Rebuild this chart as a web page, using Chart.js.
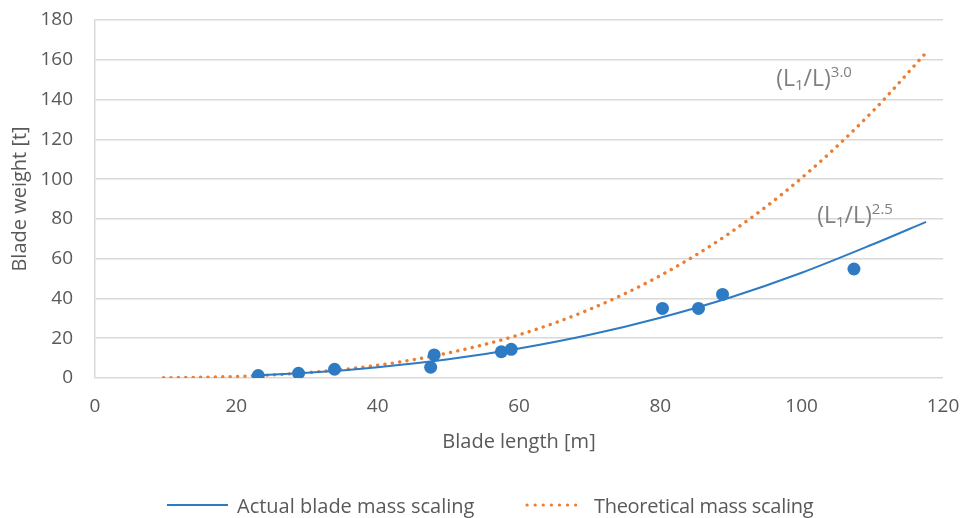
<!DOCTYPE html>
<html>
<head>
<meta charset="utf-8">
<script src="https://cdn.jsdelivr.net/npm/chart.js@4/dist/chart.umd.min.js"></script>
<style>
  html, body { margin: 0; padding: 0; background: #fff; }
  #wrap { position: relative; width: 962px; height: 518px; }
  #legend { position: absolute; left: 0; top: 492px; width: 962px; height: 26px;
            font-family: 'Open Sans', sans-serif; font-size: 20px; color: #595959; }
  .item { position: absolute; top: 0; height: 26px; display: flex; align-items: center; white-space: nowrap; }
  .item svg { margin-right: 9px; }
</style>
</head>
<body>
<div id="wrap">
  <canvas id="bladeChart" width="962" height="518"></canvas>
  <div id="legend">
    <div class="item" style="left:167px">
      <svg width="61" height="6"><line x1="0" y1="3" x2="61" y2="3" stroke="#2e7bc4" stroke-width="2.2"/></svg>
      <span>Actual blade mass scaling</span>
    </div>
    <div class="item" style="left:525px">
      <svg width="60" height="6"><line x1="2" y1="3" x2="58" y2="3" stroke="#ed7d31" stroke-width="3.2" stroke-linecap="round" stroke-dasharray="0.1 8"/></svg>
      <span style="letter-spacing:-0.3px">Theoretical mass scaling</span>
    </div>
  </div>
</div>
<script>
// blade data (length in m, weight in t)
const bladeLength = [23.1, 28.8, 33.9, 47.5, 48.0, 57.5, 58.9, 80.3, 85.4, 88.8, 107.4];
const bladeWeight = [1.2, 2.4, 4.4, 5.4, 11.6, 13.2, 14.4, 35.0, 35.0, 42.0, 54.8];

// fitted curve (L1/L)^2.5
const actualLength = [23, 30, 40, 50, 60, 70, 80, 90, 100, 110, 117.6];
const actualWeight = [1.3, 2.6, 5.4, 9.4, 14.8, 21.7, 30.3, 40.6, 52.9, 67.1, 78.5];

// theoretical curve (L1/L)^3.0
const theoryLength = [9.7, 20, 30, 40, 50, 60, 70, 80, 90, 100, 110, 117.4];
const theoryWeight = [0.1, 0.8, 2.7, 6.4, 12.6, 21.7, 34.5, 51.5, 73.3, 100.6, 133.9, 162.8];

const xTicks = [0, 20, 40, 60, 80, 100, 120];
const yTicks = [0, 20, 40, 60, 80, 100, 120, 140, 160, 180];

const BLUE = '#2e7bc4';
const ORANGE = '#ed7d31';
const TEXT = '#595959';
const GRID = '#d9d9d9';

function toPoints(xs, ys) {
  return xs.map((x, i) => ({ x: x, y: ys[i] }));
}

// curve labels, drawn in data coordinates
const curveLabels = [
  { x: 96.4, y: 150, sup: '3.0' },
  { x: 102.2, y: 81, sup: '2.5' }
];

const curveLabelPlugin = {
  id: 'curveLabels',
  afterDatasetsDraw(chart) {
    const { ctx, scales } = chart;
    ctx.save();
    ctx.fillStyle = '#7f7f7f';
    ctx.textBaseline = 'middle';
    ctx.textAlign = 'left';
    curveLabels.forEach(l => {
      let px = scales.x.getPixelForValue(l.x);
      const py = scales.y.getPixelForValue(l.y);
      const big = '23px "Open Sans"', small = '15px "Open Sans"';
      const parts = [
        { t: '(L', f: big, dy: 0 },
        { t: '1', f: small, dy: 6 },
        { t: '/L)', f: big, dy: 0 },
        { t: l.sup, f: small, dy: -7 }
      ];
      parts.forEach(p => {
        ctx.font = p.f;
        ctx.fillText(p.t, px, py + p.dy);
        px += ctx.measureText(p.t).width;
      });
    });
    ctx.restore();
  }
};

const font = { family: "'Open Sans'", size: 19 };
const titleFont = { family: "'Open Sans'", size: 20 };

new Chart(document.getElementById('bladeChart'), {
  type: 'scatter',
  data: {
    datasets: [
      {
        label: 'Blades',
        data: toPoints(bladeLength, bladeWeight),
        backgroundColor: BLUE,
        borderWidth: 0,
        pointRadius: 6.5,
        order: 0
      },
      {
        label: 'Actual blade mass scaling',
        data: toPoints(actualLength, actualWeight),
        showLine: true,
        borderColor: BLUE,
        borderWidth: 2,
        pointRadius: 0,
        cubicInterpolationMode: 'monotone',
        order: 1
      },
      {
        label: 'Theoretical mass scaling',
        data: toPoints(theoryLength, theoryWeight),
        showLine: true,
        borderColor: ORANGE,
        borderWidth: 3.4,
        borderDash: [0.1, 7.3],
        borderCapStyle: 'round',
        pointRadius: 0,
        cubicInterpolationMode: 'monotone',
        order: 2
      }
    ]
  },
  options: {
    responsive: false,
    animation: false,
    layout: { padding: { left: 0, right: 19, top: 20, bottom: 0 } },
    plugins: { legend: { display: false }, tooltip: { enabled: false } },
    scales: {
      x: {
        type: 'linear',
        min: 0, max: 120,
        afterBuildTicks: s => { s.ticks = xTicks.map(v => ({ value: v })); },
        // fixed axis band; drop the label overhang padding so the plot keeps its edges
        afterFit: s => { s.height = 140; s.paddingLeft = 0; s.paddingRight = 0; },
        ticks: { color: TEXT, font: font, padding: 17, maxRotation: 0 },
        grid: { display: false, drawTicks: false },
        border: { display: false },
        title: { display: true, text: 'Blade length [m]', color: TEXT, font: titleFont, padding: { top: 0, bottom: 64 } }
      },
      y: {
        min: 0, max: 180,
        afterBuildTicks: s => { s.ticks = yTicks.map(v => ({ value: v })); },
        afterFit: s => { s.width = 95; s.paddingTop = 0; s.paddingBottom = 0; },
        ticks: { color: TEXT, font: font, padding: 22 },
        grid: { color: GRID, lineWidth: 1.5, drawTicks: false },
        border: { display: true, color: GRID, width: 1.5 },
        title: { display: true, text: 'Blade weight [t]', color: TEXT, font: titleFont, padding: { top: 8, bottom: 0 } }
      }
    }
  },
  plugins: [curveLabelPlugin]
});
</script>
</body>
</html>
